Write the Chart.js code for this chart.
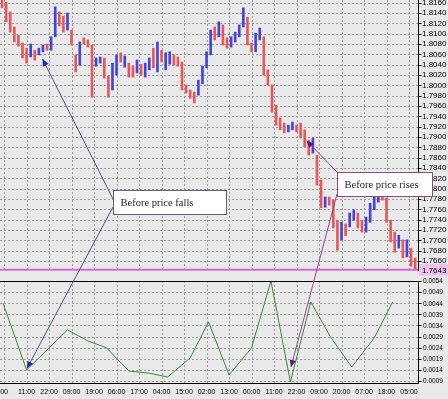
<!DOCTYPE html>
<html><head><meta charset="utf-8">
<script src="https://cdn.jsdelivr.net/npm/chart.js@4.4.1/dist/chart.umd.min.js"></script>
<style>html,body{margin:0;padding:0;background:#e9e9e9;overflow:hidden}#wrap{position:relative;width:448px;height:399px}canvas{display:block}</style>
</head><body><div id="wrap"><canvas id="c" width="448" height="399"></canvas></div>
<script>
const timeTickHours = [2,13,24,35,46,57,68,79,90,101,112,123,134,145,156,167,178,189,200];
const timeLabels = ["00","11:00","22:00","09:00","19:00","06:00","17:00","04:00","15:00","02:00","13:00","00:00","11:00","22:00","09:00","20:00","07:00","18:00","05:00"];
const priceTicks = [1.8160,1.8140,1.8120,1.8100,1.8080,1.8060,1.8040,1.8020,1.8000,1.7980,1.7960,1.7940,1.7920,1.7900,1.7880,1.7860,1.7840,1.7820,1.7800,1.7780,1.7760,1.7740,1.7720,1.7700,1.7680,1.7660];
const indTicks = [0.0054,0.0049,0.0044,0.0039,0.0034,0.0029,0.0024,0.0019,0.0014,0.0009];
const currentPrice = 1.7643;

const barHigh = [1.8165,1.8161,1.8142,1.8113,1.8097,1.8082,1.8072,1.8080,1.8068,1.8072,
1.8078,1.8080,1.8094,1.8152,1.8142,1.8134,1.8140,1.8107,1.8059,1.8084,
1.8092,1.8088,1.8078,1.8053,1.8055,1.8053,1.8018,1.8043,1.8059,1.8063,
1.8057,1.8043,1.8037,1.8049,1.8041,1.8043,1.8053,1.8072,1.8084,1.8068,
1.8063,1.8065,1.8059,1.8055,1.8045,1.8001,1.7991,1.7987,1.8010,1.8037,
1.8065,1.8107,1.8113,1.8123,1.8117,1.8092,1.8094,1.8103,1.8117,1.8150,
1.8132,1.8082,1.8101,1.8111,1.8094,1.8030,1.8001,1.7962,1.7937,1.7927,
1.7923,1.7929,1.7923,1.7927,1.7914,1.7894,1.7898,1.7865,1.7817,1.7784,
1.7784,1.7778,1.7739,1.7735,1.7732,1.7753,1.7759,1.7753,1.7739,1.7745,
1.7772,1.7784,1.7792,1.7792,1.7782,1.7739,1.7716,1.7710,1.7701,1.7701,
1.7685,1.7666];
const barLow = [1.8150,1.8123,1.8103,1.8084,1.8076,1.8053,1.8043,1.8055,1.8049,1.8059,
1.8065,1.8068,1.8068,1.8094,1.8115,1.8103,1.8107,1.8078,1.8026,1.8039,
1.8080,1.8074,1.7977,1.8037,1.8043,1.8014,1.7977,1.7991,1.8020,1.8045,
1.8035,1.8016,1.8016,1.8024,1.8020,1.8016,1.8030,1.8034,1.8026,1.8045,
1.8030,1.8041,1.8039,1.8037,1.7991,1.7985,1.7975,1.7966,1.7981,1.8003,
1.8034,1.8059,1.8088,1.8094,1.8078,1.8072,1.8074,1.8084,1.8094,1.8113,
1.8078,1.8065,1.8065,1.8088,1.8020,1.8001,1.7948,1.7923,1.7914,1.7908,
1.7910,1.7914,1.7910,1.7898,1.7881,1.7865,1.7869,1.7807,1.7763,1.7764,
1.7768,1.7724,1.7681,1.7701,1.7709,1.7726,1.7739,1.7724,1.7716,1.7716,
1.7735,1.7759,1.7774,1.7778,1.7735,1.7697,1.7677,1.7685,1.7666,1.7668,
1.7650,1.7643];
const barUp = [0,0,0,0,0,0,0,1,0,1,
1,0,1,1,0,0,1,0,0,1,
0,0,0,1,1,0,0,1,1,0,
1,0,0,1,0,1,1,0,1,0,
1,1,0,0,0,0,0,0,1,1,
1,1,0,1,0,0,1,1,1,1,
0,0,1,1,0,0,0,0,0,0,
1,1,0,0,0,0,1,0,0,1,
0,0,0,1,0,1,1,0,0,1,
1,1,1,0,0,0,0,1,0,1,
0,0];
const barHours = barLow.map((_, i) => 1 + 2 * i);

const indHours = [1.5,13,23,33,43,52,63,73,82,93,102,112,123,132.5,142,152,161.5,172,183,192];
const indValues = [0.0044,0.0014,0.0023,0.0032,0.0027,0.0024,0.00135,0.00125,0.00108,0.00194,0.00356,0.00117,0.00239,0.0054,0.00086,0.00446,0.0029,0.00153,0.00284,0.00446];

// annotation targets: [hour, value, axis]
const fallsTargets = [[20.8, 1.8051, 'y'], [13.2, 0.00147, 'y2']];
const risesTargets = [[149.9, 1.7893, 'y'], [142.3, 0.00153, 'y2']];
const fallsText = 'Before price falls';
const risesText = 'Before price rises';

const GRID = '#9a9a9a';
const deco = {
  id: 'deco',
  beforeDraw(chart) {
    const c = chart.ctx;
    c.save(); c.fillStyle = '#e9e9e9'; c.fillRect(0, 0, chart.width, chart.height); c.restore();
  },
  beforeDatasetsDraw(chart) {
    const c = chart.ctx, a = chart.chartArea, xs = chart.scales.x, ys = chart.scales.y, y2 = chart.scales.y2;
    const upB = ys.getPixelForValue(currentPrice);
    const loT = y2.getPixelForValue(indTicks[0]);
    c.save();
    c.strokeStyle = GRID; c.lineWidth = 1; c.setLineDash([2, 2]);
    c.beginPath();
    priceTicks.forEach(v => { const y = Math.round(ys.getPixelForValue(v)) + 0.5; c.moveTo(a.left, y); c.lineTo(a.right, y); });
    indTicks.slice(1).forEach(v => { const y = Math.round(y2.getPixelForValue(v)) + 0.5; c.moveTo(a.left, y); c.lineTo(a.right, y); });
    timeTickHours.forEach(h => { const x = Math.round(xs.getPixelForValue(h)) + 0.5; c.moveTo(x, a.top); c.lineTo(x, upB); c.moveTo(x, loT); c.lineTo(x, a.bottom); });
    c.stroke();
    c.restore();
  },
  afterDatasetsDraw(chart) {
    const c = chart.ctx, a = chart.chartArea, xs = chart.scales.x, ys = chart.scales.y, y2 = chart.scales.y2;
    const upB = ys.getPixelForValue(currentPrice);
    const loT = Math.round(y2.getPixelForValue(indTicks[0])) + 0.5;
    const R = Math.round(a.right) + 0.5;
    c.save();
    // current price line
    c.strokeStyle = '#d46ad4'; c.lineWidth = 2;
    c.beginPath(); c.moveTo(a.left, upB); c.lineTo(a.right, upB); c.stroke();
    // borders
    c.strokeStyle = '#000'; c.lineWidth = 1;
    c.beginPath();
    c.moveTo(R, a.top); c.lineTo(R, upB + 1);
    c.moveTo(a.left, loT); c.lineTo(R, loT); c.lineTo(R, a.bottom - 0.5); c.lineTo(a.left, a.bottom - 0.5);
    priceTicks.forEach(v => { const y = Math.round(ys.getPixelForValue(v)) + 0.5; c.moveTo(R, y); c.lineTo(R + 3, y); });
    indTicks.forEach(v => { const y = Math.round(y2.getPixelForValue(v)) + 0.5; c.moveTo(R, y); c.lineTo(R + 3, y); });
    c.stroke();
    // indicator axis labels
    c.fillStyle = '#000'; c.font = '6.5px "Liberation Sans"'; c.textBaseline = 'middle'; c.textAlign = 'left';
    indTicks.forEach(v => { c.fillText(v.toFixed(4), R + 4.5, y2.getPixelForValue(v) + 0.5); });
    // current price label
    c.fillStyle = '#f0c2f0'; c.fillRect(R + 0.5, upB - 6, chart.width - R, 12);
    c.fillStyle = '#000'; c.font = '8px "Liberation Sans"';
    c.fillText(currentPrice.toFixed(4), R + 3.5, upB + 0.5);

    const pt = t => ({ x: xs.getPixelForValue(t[0]), y: chart.scales[t[2]].getPixelForValue(t[1]) });
    const drawArrow = (fx, fy, p, col, headCol) => {
      c.strokeStyle = col; c.lineWidth = 1;
      c.beginPath(); c.moveTo(fx, fy); c.lineTo(p.x, p.y); c.stroke();
      const ang = Math.atan2(p.y - fy, p.x - fx);
      const L = 7, W = 3.2;
      c.fillStyle = headCol;
      c.beginPath();
      c.moveTo(p.x, p.y);
      c.lineTo(p.x - L * Math.cos(ang) + W * Math.sin(ang), p.y - L * Math.sin(ang) - W * Math.cos(ang));
      c.lineTo(p.x - L * Math.cos(ang) - W * Math.sin(ang), p.y - L * Math.sin(ang) + W * Math.cos(ang));
      c.closePath(); c.fill();
    };
    const box = (x, y, w, h, border, txt) => {
      c.fillStyle = '#ffffff'; c.fillRect(x, y, w, h);
      c.strokeStyle = border; c.lineWidth = 1; c.strokeRect(x + 0.5, y + 0.5, w, h);
      c.fillStyle = '#1c1c2c'; c.font = '10.5px "Liberation Serif"'; c.textBaseline = 'middle'; c.textAlign = 'left';
      c.fillText(txt, x + 7.5, y + h / 2 + 1);
    };
    // falls
    const fBox = { x: 113, y: 190, w: 113, h: 24 };
    drawArrow(fBox.x, fBox.y + 9, pt(fallsTargets[0]), '#4f4f8c', '#1e2bb0');
    drawArrow(fBox.x, fBox.y + 17, pt(fallsTargets[1]), '#4f4f8c', '#1e2bb0');
    // rises
    const rBox = { x: 337, y: 172, w: 95, h: 24 };
    drawArrow(rBox.x, rBox.y, pt(risesTargets[0]), '#9a459a', '#5c1a6a');
    drawArrow(rBox.x, rBox.y + 22, pt(risesTargets[1]), '#9a459a', '#5c1a6a');
    box(fBox.x, fBox.y, fBox.w, fBox.h, '#5e5e8e', fallsText);
    box(rBox.x, rBox.y, rBox.w, rBox.h, '#8a4a8a', risesText);
    c.restore();
  }
};

Chart.defaults.font.family = '"Liberation Sans", Arial, sans-serif';
Chart.defaults.color = '#000';
const noPad = s => { s.paddingTop = 0; s.paddingBottom = 0; s.paddingLeft = 0; s.paddingRight = 0; };

new Chart(document.getElementById('c'), {
  data: {
    datasets: [
      {
        type: 'bar', xAxisID: 'x', yAxisID: 'y',
        data: barLow.map((lo, i) => ({ x: barHours[i], y: [lo, barHigh[i]] })),
        backgroundColor: barUp.map(u => u ? '#4444dc' : '#e45a5a'),
        borderWidth: 0, barThickness: 2, grouped: false
      },
      {
        type: 'line', xAxisID: 'x', yAxisID: 'y2',
        data: indHours.map((h, i) => ({ x: h, y: indValues[i] })),
        borderColor: '#3b8a3b', borderWidth: 1, pointRadius: 0, tension: 0, fill: false
      }
    ]
  },
  options: {
    responsive: false, animation: false, devicePixelRatio: 1,
    layout: { padding: 0 },
    plugins: { legend: { display: false }, tooltip: { enabled: false } },
    scales: {
      x: {
        type: 'linear', position: 'bottom', min: 0, max: 204.4, offset: false,
        afterBuildTicks: s => { s.ticks = timeTickHours.map(v => ({ value: v })); },
        afterFit: s => { s.height = 15; noPad(s); },
        ticks: { autoSkip: false, maxRotation: 0, minRotation: 0, padding: 4, font: { size: 7 }, color: '#000',
                 callback: (v, i) => timeLabels[i] },
        grid: { display: false, drawTicks: false }, border: { display: false }
      },
      y2: {
        type: 'linear', position: 'right', weight: 0, min: 0.000765, max: 0.018045,
        afterBuildTicks: s => { s.ticks = indTicks.map(v => ({ value: v })); },
        afterFit: s => { s.width = 0; noPad(s); },
        ticks: { display: false },
        grid: { display: false, drawTicks: false }, border: { display: false }
      },
      y: {
        type: 'linear', position: 'right', weight: 1, min: 1.74220, max: 1.81652,
        afterBuildTicks: s => { s.ticks = priceTicks.map(v => ({ value: v })); },
        afterFit: s => { s.width = 30; noPad(s); },
        ticks: { autoSkip: false, padding: 4, font: { size: 8 }, color: '#000', callback: v => v.toFixed(4) },
        grid: { display: false, drawTicks: false }, border: { display: false }
      }
    }
  },
  plugins: [deco]
});
</script>
</body></html>
